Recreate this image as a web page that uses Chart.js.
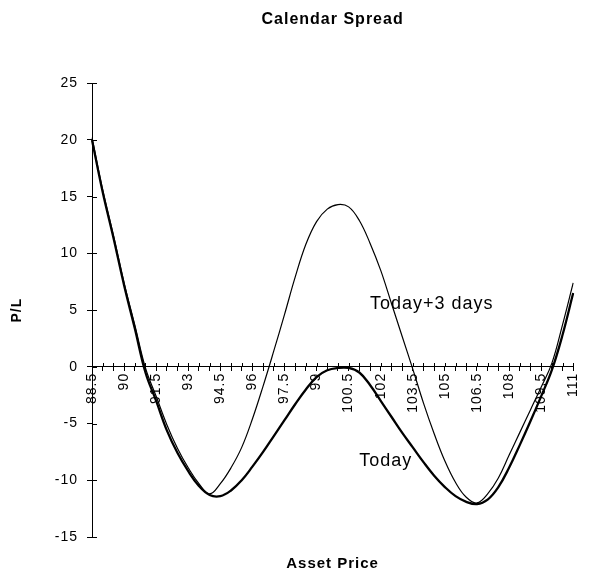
<!DOCTYPE html>
<html>
<head>
<meta charset="utf-8">
<script src="https://cdn.jsdelivr.net/npm/chart.js@4.4.1/dist/chart.umd.min.js"></script>
<style>
html,body{margin:0;padding:0;background:#fff;}
canvas{display:block;}
</style>
</head>
<body>
<canvas id="c" width="592" height="578"></canvas>
<script>
// Asset prices (categories, step 0.5)
const prices = [88.5,89,89.5,90,90.5,91,91.5,92,92.5,93,93.5,94,94.5,95,95.5,96,96.5,97,97.5,98,98.5,99,99.5,100,100.5,101,101.5,102,102.5,103,103.5,104,104.5,105,105.5,106,106.5,107,107.5,108,108.5,109,109.5,110,110.5,111];
// Labelled x ticks
const tickLabels = ['88.5','90','91.5','93','94.5','96','97.5','99','100.5','102','103.5','105','106.5','108','109.5','111'];
// P/L today
const today = [20.0,15.4,11.4,7.2,3.4,-0.5,-3.0,-5.6,-7.6,-9.2,-10.5,-11.3,-11.4,-10.9,-10.0,-8.8,-7.5,-6.1,-4.7,-3.3,-2.0,-0.9,-0.3,-0.1,-0.1,-0.5,-1.6,-3.0,-4.4,-5.8,-7.1,-8.4,-9.6,-10.6,-11.4,-11.9,-12.1,-11.7,-10.6,-8.9,-6.9,-4.8,-2.6,-0.3,2.8,6.5];
// P/L today + 3 days
const todayPlus3 = [20.2,15.6,11.6,7.4,3.7,-0.1,-2.6,-5.1,-7.2,-8.9,-10.3,-11.2,-10.3,-8.9,-7.1,-4.6,-1.7,1.4,4.6,7.9,10.8,12.8,13.9,14.3,14.1,12.9,10.9,8.5,5.6,2.7,-0.2,-3.2,-5.9,-8.3,-10.2,-11.5,-12.0,-11.2,-9.8,-7.8,-5.8,-3.8,-1.8,0.3,3.7,7.4];
// In-chart curve labels (anchored in data units)
const noteTexts = ['Today+3 days','Today'];
const notePrices = [101.5,101];
const noteValues = [5.5,-8.3];

const FONT = '"Liberation Sans", Arial, Helvetica, sans-serif';

const spacing = {
  id: 'spacing',
  beforeLayout(chart) { chart.ctx.letterSpacing = '1px'; },
  beforeDraw(chart) { chart.ctx.letterSpacing = '1px'; }
};

const crossTicks = {
  id: 'crossTicks',
  afterDatasetsDraw(chart) {
    const {ctx, scales: {x, y}} = chart;
    const y0 = y.getPixelForValue(0);
    ctx.save();
    ctx.strokeStyle = '#000';
    ctx.lineWidth = 1;
    ctx.beginPath();
    x.ticks.forEach((t, i) => {
      const px = Math.round(x.getPixelForTick(i)) + 0.5;
      ctx.moveTo(px, Math.round(y0) - 4);
      ctx.lineTo(px, Math.round(y0));
    });
    y.ticks.forEach((t, i) => {
      const py = Math.round(y.getPixelForTick(i)) + 0.5;
      ctx.moveTo(chart.chartArea.left, py);
      ctx.lineTo(chart.chartArea.left + 5, py);
    });
    ctx.stroke();
    ctx.restore();
  }
};

const notes = {
  id: 'notes',
  afterDatasetsDraw(chart) {
    const {ctx, scales: {x, y}} = chart;
    ctx.save();
    ctx.font = '18px ' + FONT;
    ctx.fillStyle = '#000';
    ctx.textAlign = 'left';
    ctx.textBaseline = 'middle';
    noteTexts.forEach((t, i) => {
      ctx.fillText(t, x.getPixelForValue(prices.indexOf(notePrices[i])), y.getPixelForValue(noteValues[i]));
    });
    ctx.restore();
  }
};

new Chart(document.getElementById('c'), {
  type: 'line',
  data: {
    labels: prices.map(p => String(p)),
    datasets: [
      {label: 'Today+3 days', data: todayPlus3, borderColor: '#000', borderWidth: 1.2, pointRadius: 0, fill: false, tension: 0.4},
      {label: 'Today', data: today, borderColor: '#000', borderWidth: 2.3, pointRadius: 0, fill: false, tension: 0.4}
    ]
  },
  options: {
    responsive: false,
    animation: false,
    events: [],
    layout: {padding: {left: 0, right: 13, top: 0, bottom: 0}},
    plugins: {
      legend: {display: false},
      tooltip: {enabled: false},
      title: {display: true, text: 'Calendar Spread', color: '#000', fullSize: false,
        font: {family: FONT, size: 16, weight: 'bold'}, padding: {top: 10, bottom: 54}},
      subtitle: {display: true, text: 'Asset Price', position: 'bottom', color: '#000', fullSize: false,
        font: {family: FONT, size: 15, weight: 'bold'}, padding: {top: 18, bottom: 5}}
    },
    scales: {
      x: {
        type: 'category',
        position: {y: 0},
        offset: false,
        grid: {drawOnChartArea: false, drawTicks: true, tickLength: 4, tickColor: '#000', tickWidth: 1},
        border: {display: true, color: '#000', width: 1},
        ticks: {
          autoSkip: false, minRotation: 90, maxRotation: 90, padding: 2, color: '#000',
          font: {family: FONT, size: 14},
          callback: function(v) { const l = this.getLabelForValue(v); return tickLabels.includes(l) ? l : ''; }
        },
        afterFit: s => { s.height = 0; }
      },
      y: {
        type: 'linear',
        position: 'left',
        min: -15, max: 25,
        grid: {drawOnChartArea: false, tickLength: 5, tickColor: '#000'},
        border: {display: true, color: '#000', width: 1},
        ticks: {stepSize: 5, padding: 9, color: '#000', font: {family: FONT, size: 14}},
        title: {display: true, text: 'P/L', color: '#000', font: {family: FONT, size: 14, weight: 'bold'}, padding: {top: 9, bottom: 0}},
        afterFit: s => { s.width = 92; }
      }
    }
  },
  plugins: [spacing, crossTicks, notes]
});
</script>
</body>
</html>
